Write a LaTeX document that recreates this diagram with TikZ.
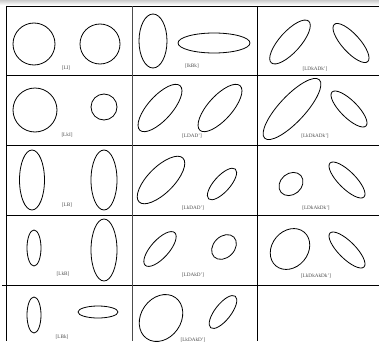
\documentclass[tikz,border=0pt]{standalone}
\usepackage{fontspec}
\setmainfont{Liberation Serif}
\usepackage{tikz}

\tikzset{
  lbl/.style={font=\fontsize{5.2}{6}\selectfont, text=black!70, inner sep=0pt},
  curve/.style={line width=0.8pt},
}
% ellipse: centre x, centre y, angle, half axes
\newcommand{\elli}[5]{\draw[curve, rotate around={#3:(#1,#2)}] (#1,#2) ellipse (#4pt and #5pt);}

\begin{document}
\begin{tikzpicture}[x=1pt, y=-1pt]
\useasboundingbox (0,0) rectangle (379,345);

\shade[top color=gray!40, bottom color=white] (0,0) rectangle (379,5);

% Rejilla
	\foreach \y in {6, 75, 145, 215}
		\draw[line width=0.6pt] (6,\y) -- (379,\y);
	\draw[line width=0.6pt] (2,285) -- (379,285);

	\draw[line width=0.6pt] (6,6) -- (6,341);
	\draw[line width=1pt, black!70] (132,6) -- (132,341);
	\draw[line width=0.6pt] (257,6) -- (257,341);

% Fila 1
	\elli{34}{44}{0}{21}{21}
	\elli{100}{44}{0}{20}{20}
	\node[lbl] (l11) at (66,68) {[LI]};

	\elli{153}{41}{0}{14}{27}
	\elli{214}{43}{0}{36}{10}
	\node[lbl] (l12) at (192,66) {[lkBk]};

	\elli{290}{42}{48}{28}{10.5}
	\elli{351}{43}{-48}{25}{9}
	\node[lbl] (l13) at (315,69) {[LDkADk']};

% Fila 2
	\elli{35}{110}{0}{22}{22}
	\elli{104}{107}{0}{13}{13}
	\node[lbl] (l21) at (67,135) {[LkI]};

	\elli{160}{108}{48}{30}{12}
	\elli{220}{108}{48}{30}{12}
	\node[lbl] (l22) at (192,136) {[LDAD']};

	\elli{292}{109}{47}{40}{13}
	\elli{349}{109}{-45}{24}{8.5}
	\node[lbl] (l23) at (315,136) {[LkDkADk']};

% Fila 3
	\elli{32}{180}{0}{12.5}{30}
	\elli{104}{180}{0}{13}{30}
	\node[lbl] (l31) at (67,205) {[LB]};

	\elli{161}{180}{45}{31}{13}
	\elli{222}{184}{48}{20}{8}
	\node[lbl] (l32) at (193,208) {[LkDAD']};

	\elli{291}{184}{40}{13}{10.5}
	\elli{347}{180}{-45}{24}{8.5}
	\node[lbl] (l33) at (316,208) {[LDkAkDk']};

% Fila 4
	\elli{34}{248}{0}{7}{18}
	\elli{104}{250}{0}{13}{31}
	\node[lbl] (l41) at (63,274) {[LkB]};

	\elli{160}{249}{48}{22}{9}
	\elli{224}{247}{45}{14}{10.5}
	\node[lbl] (l42) at (193,275) {[LDAkD']};

	\elli{290}{249}{50}{22}{18}
	\elli{347}{250}{-45}{24}{8.5}
	\node[lbl] (l43) at (316,276) {[LkDkAkDk']};

% Fila 5
	\elli{34}{315}{0}{7}{18}
	\elli{98}{312}{0}{20}{6}
	\node[lbl] (l51) at (62,337) {[LBk]};

	\elli{161}{318}{55}{25}{20}
	\elli{223}{312}{52}{20}{8}
	\node[lbl] (l52) at (193,340) {[LkDAkD']};
\end{tikzpicture}
\end{document}
